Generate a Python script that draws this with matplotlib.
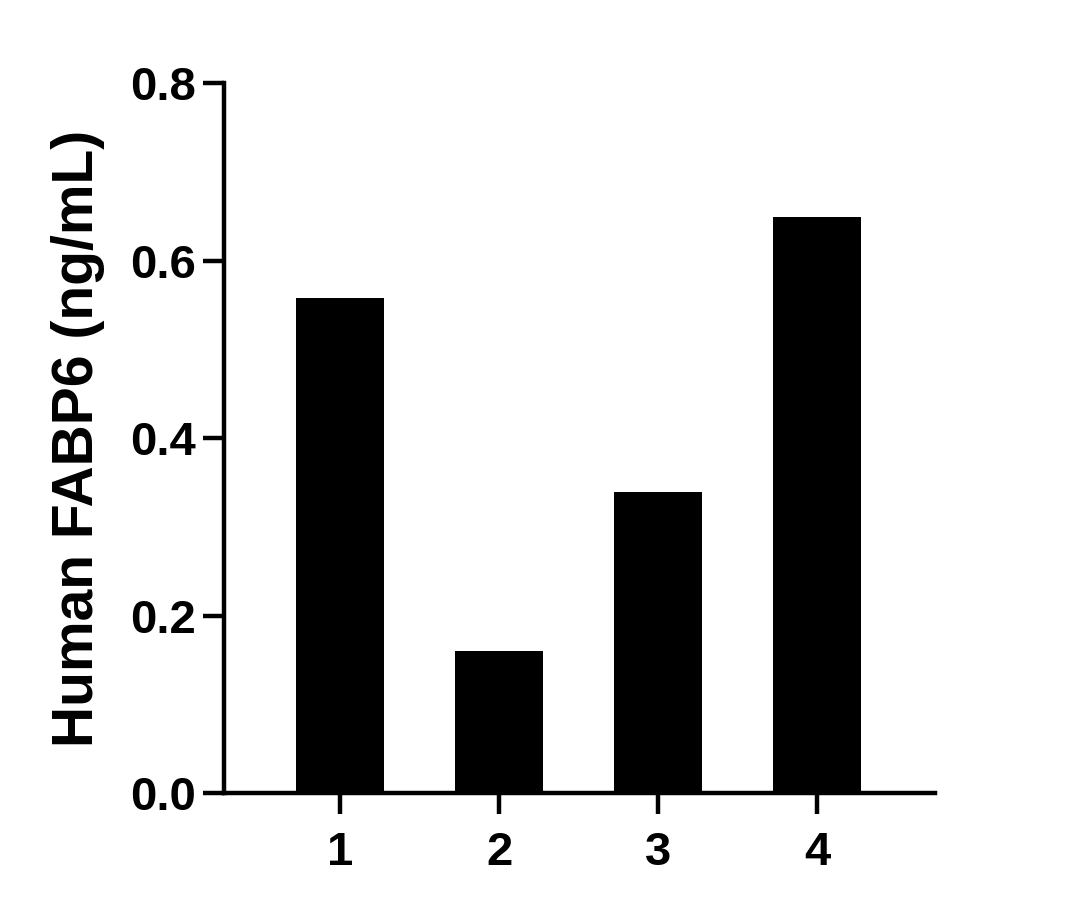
import matplotlib
matplotlib.use('Agg')
import matplotlib.pyplot as plt

# Valores
amostras = ['1', '2', '3', '4']
fabp6 = [0.558, 0.160, 0.339, 0.649]

plt.rcParams['font.family'] = ['Liberation Sans', 'DejaVu Sans']
plt.rcParams['font.weight'] = 'bold'

fig = plt.figure(figsize=(10.72, 9.09), dpi=100)
ax = fig.add_axes([0.209, 0.1276, 0.663, 0.781])

pos = list(range(1, len(amostras) + 1))
ax.bar(pos, fabp6, width=0.555, color='black')

ax.set_xlim(0.27, 4.74)
ax.set_ylim(0, 0.8)
ax.set_xticks(pos)
ax.set_xticklabels(amostras)
ax.set_yticks([0.0, 0.2, 0.4, 0.6, 0.8])
ax.set_yticklabels(['0.0', '0.2', '0.4', '0.6', '0.8'])

for s in ['top', 'right']:
    ax.spines[s].set_visible(False)
for s in ['left', 'bottom']:
    ax.spines[s].set_linewidth(3.2)

ax.tick_params(axis='both', width=3.2, length=15, labelsize=34)
ax.tick_params(axis='x', pad=12)
ax.tick_params(axis='y', pad=5)
for lbl in ax.get_xticklabels() + ax.get_yticklabels():
    lbl.set_fontweight('bold')

ax.set_ylabel('Human FABP6 (ng/mL)', fontsize=41, fontweight='bold', labelpad=18)

fig.savefig('out.png', dpi=100)
